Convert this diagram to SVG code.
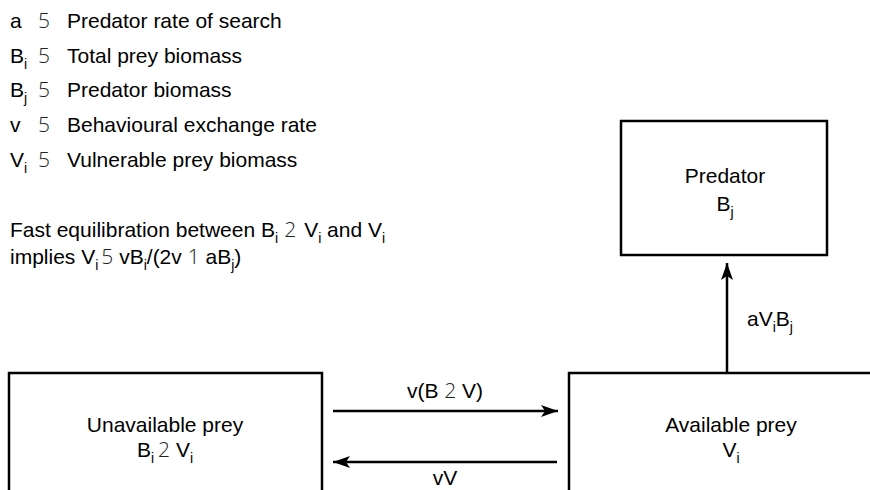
<svg xmlns="http://www.w3.org/2000/svg" width="870" height="490" viewBox="0 0 870 490">
  <defs>
    <style>
      .t { font-family: "Liberation Sans", Arial, sans-serif; font-size: 21px; fill: #000; }
      .sym { font-family: "DejaVu Sans ExtraLight", "Open Sans", sans-serif; font-weight: 300; font-size: 21px; fill: #222; }
      .sub { font-size: 14px; }
      .box { fill: #fff; stroke: #000; stroke-width: 2.5; }
      .arr { fill: none; stroke: #000; stroke-width: 2.5; marker-end: url(#ah); }
    </style>
    <marker id="ah" markerUnits="userSpaceOnUse" markerWidth="18" markerHeight="14" refX="17" refY="7" orient="auto">
      <path d="M0,1 L17,7 L0,13 L4,7 z" fill="#000"/>
    </marker>
  </defs>
  <rect width="870" height="490" fill="#fff"/>

  <g id="legend">
    <text class="t" x="10" y="28">a</text>
    <text class="sym" x="38" y="28">5</text>
    <text class="t" x="67" y="28">Predator rate of search</text>

    <text class="t" x="10" y="63">B<tspan class="sub" dy="6">i</tspan></text>
    <text class="sym" x="38" y="63">5</text>
    <text class="t" x="67" y="63">Total prey biomass</text>

    <text class="t" x="10" y="97">B<tspan class="sub" dy="6">j</tspan></text>
    <text class="sym" x="38" y="97">5</text>
    <text class="t" x="67" y="97">Predator biomass</text>

    <text class="t" x="10" y="132">v</text>
    <text class="sym" x="38" y="132">5</text>
    <text class="t" x="67" y="132">Behavioural exchange rate</text>

    <text class="t" x="10" y="167">V<tspan class="sub" dy="6">i</tspan></text>
    <text class="sym" x="38" y="167">5</text>
    <text class="t" x="67" y="167">Vulnerable prey biomass</text>
  </g>

  <g id="note">
    <text class="t" x="10" y="237">Fast equilibration between B<tspan class="sub" dy="6">i</tspan><tspan class="sym" dx="6" dy="-6">2</tspan><tspan dx="8">V</tspan><tspan class="sub" dy="6">i</tspan><tspan dy="-6"> and V</tspan><tspan class="sub" dy="6">i</tspan></text>
    <text class="t" x="10" y="264">implies V<tspan class="sub" dy="6">i</tspan><tspan class="sym" dx="3" dy="-6">5</tspan><tspan> vB</tspan><tspan class="sub" dy="6">i</tspan><tspan dy="-6">/(2v </tspan><tspan class="sym">1</tspan><tspan> aB</tspan><tspan class="sub" dy="6">j</tspan><tspan dy="-6">)</tspan></text>
  </g>

  <g id="predator">
    <rect class="box" x="621" y="121" width="206" height="134"/>
    <text class="t" x="725" y="183" text-anchor="middle">Predator</text>
    <text class="t" x="725" y="211" text-anchor="middle">B<tspan class="sub" dy="6">j</tspan></text>
  </g>

  <g id="unavailable">
    <rect class="box" x="9" y="373" width="313" height="140"/>
    <text class="t" x="165" y="432" text-anchor="middle">Unavailable prey</text>
    <text class="t" x="165" y="457" text-anchor="middle">B<tspan class="sub" dy="6">i</tspan><tspan class="sym" dx="4" dy="-6">2</tspan><tspan> V</tspan><tspan class="sub" dy="6">i</tspan></text>
  </g>

  <g id="available">
    <rect class="box" x="569" y="373" width="340" height="140"/>
    <text class="t" x="731" y="432" text-anchor="middle">Available prey</text>
    <text class="t" x="731" y="457" text-anchor="middle">V<tspan class="sub" dy="6">i</tspan></text>
  </g>

  <g id="connectors">
    <line class="arr" x1="333" y1="411" x2="558" y2="411"/>
    <line class="arr" x1="557" y1="462" x2="333" y2="462"/>
    <line class="arr" x1="727" y1="373" x2="727" y2="263"/>
    <text class="t" x="445" y="398" text-anchor="middle">v(B <tspan class="sym">2</tspan> V)</text>
    <text class="t" x="445" y="485" text-anchor="middle">vV</text>
    <text class="t" x="747" y="326">aV<tspan class="sub" dy="6">i</tspan><tspan dy="-6">B</tspan><tspan class="sub" dy="6">j</tspan></text>
  </g>
</svg>
